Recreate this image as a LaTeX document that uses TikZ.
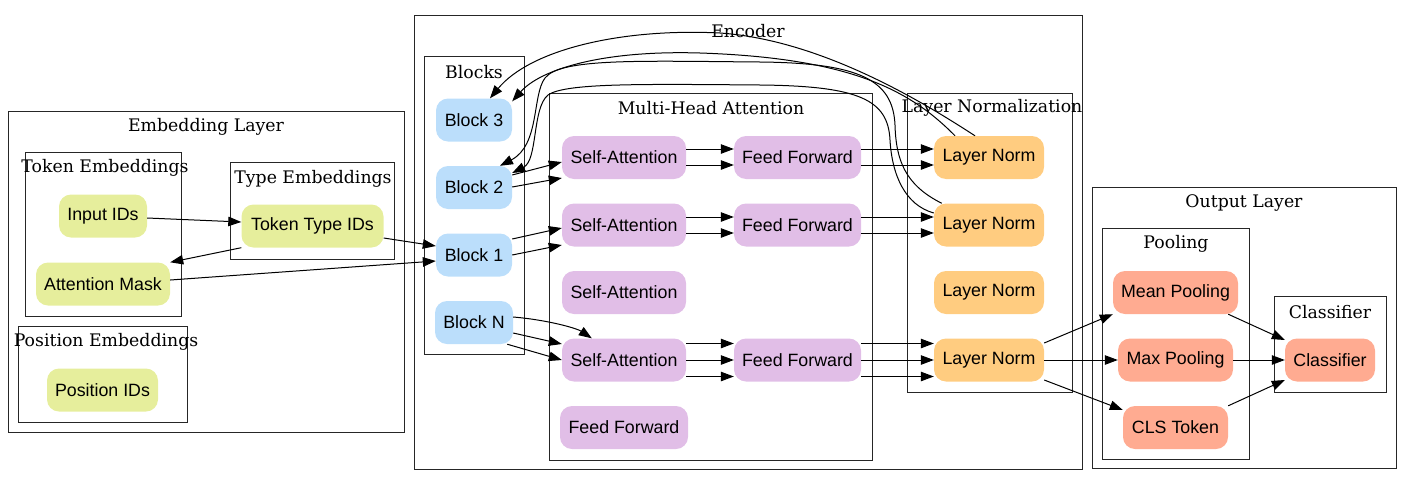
\documentclass[tikz,border=0pt]{standalone}
\usepackage{fontspec}
\setmainfont{DejaVu Serif}
\newfontfamily\nodefont{Liberation Sans}
\usetikzlibrary{arrows.meta}
\definecolor{cemb}{HTML}{E6EE9C}
\definecolor{cblk}{HTML}{BBDEFB}
\definecolor{catt}{HTML}{E1BEE7}
\definecolor{cln}{HTML}{FFCC80}
\definecolor{cout}{HTML}{FFAB91}
\begin{document}
\begin{tikzpicture}[x=1pt,y=-1pt,
  box/.style={rounded corners=12pt, minimum height=43pt, inner sep=0pt,
    font=\nodefont\fontsize{17.8}{20}\selectfont, text=black},
  emb/.style={box, fill=cemb},
  blk/.style={box, fill=cblk},
  att/.style={box, fill=catt},
  lnn/.style={box, fill=cln},
  outn/.style={box, fill=cout},
  cluster/.style={draw=black!85, line width=1pt},
  ctitle/.style={font=\fontsize{17.3}{20}\selectfont, inner sep=0pt},
  edge/.style={-{Triangle[length=13pt,width=9.5pt]}, line width=1pt},
  back/.style={line width=1pt, -{Triangle[length=13pt,width=9.5pt]}},
]
\useasboundingbox (0,0) rectangle (1411,485);

% clusters
\draw[cluster] (8,111) rectangle (404,432);
\node[ctitle] (tEmb) at (206,127) {Embedding Layer};
\draw[cluster] (25,152) rectangle (181,316);
\node[ctitle] (tTok) at (105,168) {Token Embeddings};
\draw[cluster] (230,162) rectangle (394,259);
\node[ctitle] (tType) at (313,179) {Type Embeddings};
\draw[cluster] (18,326) rectangle (187,422);
\node[ctitle] (tPos) at (106,342) {Position Embeddings};

\draw[cluster] (414,15) rectangle (1082,469);
\node[ctitle] (tEnc) at (748,31) {Encoder};
\draw[cluster] (424,56) rectangle (524,354);
\node[ctitle] (tBlk) at (474,72) {Blocks};
\draw[cluster] (549,93) rectangle (872,460);
\node[ctitle] (tMha) at (711,108) {Multi-Head Attention};
\draw[cluster] (907,93) rectangle (1072,392);
\node[ctitle] (tLn) at (992,108) {Layer Normalization};

\draw[cluster] (1092,187) rectangle (1396,468);
\node[ctitle] (tOut) at (1244,203) {Output Layer};
\draw[cluster] (1102,228) rectangle (1249,459);
\node[ctitle] (tPool) at (1176,244) {Pooling};
\draw[cluster] (1274,296) rectangle (1386,392);
\node[ctitle] (tClf) at (1330,312) {Classifier};

% nodes
\node[emb, minimum width=88pt] (in) at (103,216) {Input IDs};
\node[emb, minimum width=134pt] (am) at (103,284) {Attention Mask};
\node[emb, minimum width=142pt] (tt) at (312.5,226) {Token Type IDs};
\node[emb, minimum width=111pt] (pos) at (102.5,390) {Position IDs};

\node[blk, minimum width=76pt] (b3) at (474,120) {Block 3};
\node[blk, minimum width=76pt] (b2) at (474,187.5) {Block 2};
\node[blk, minimum width=76pt] (b1) at (474,255) {Block 1};
\node[blk, minimum width=78pt] (bn) at (474,322.5) {Block N};

\node[att, minimum width=124pt] (sa1) at (624,157.5) {Self-Attention};
\node[att, minimum width=127pt] (ff1) at (797.5,157.5) {Feed Forward};
\node[att, minimum width=124pt] (sa2) at (624,225) {Self-Attention};
\node[att, minimum width=127pt] (ff2) at (797.5,225) {Feed Forward};
\node[att, minimum width=124pt] (sa3) at (624,292.5) {Self-Attention};
\node[att, minimum width=124pt] (sa4) at (624,360) {Self-Attention};
\node[att, minimum width=127pt] (ff4) at (797.5,360) {Feed Forward};
\node[att, minimum width=128pt] (ff5) at (624,427.5) {Feed Forward};

\node[lnn, minimum width=110pt] (ln1) at (989,157.5) {Layer Norm};
\node[lnn, minimum width=110pt] (ln2) at (989,225) {Layer Norm};
\node[lnn, minimum width=110pt] (ln3) at (989,292.5) {Layer Norm};
\node[lnn, minimum width=110pt] (ln4) at (989,360) {Layer Norm};

\node[outn, minimum width=125pt] (mp) at (1175.5,292.5) {Mean Pooling};
\node[outn, minimum width=115pt] (xp) at (1175.5,360) {Max Pooling};
\node[outn, minimum width=105pt] (cls) at (1175.5,427.5) {CLS Token};
\node[outn, minimum width=90pt] (clf) at (1330,360) {Classifier};

% embedding edges
\draw[edge] ([yshift=-2pt]in.east) -- ([yshift=4pt]tt.west);
\draw[edge] (tt.south west) -- (am.north east);
\draw[edge] ([yshift=-12pt]tt.east) -- ([yshift=9pt]b1.west);
\draw[edge] ([yshift=4pt]am.east) -- ([yshift=-6pt]b1.west);

% blocks to attention
\draw[edge] ([yshift=16pt]b1.east) -- ([yshift=-3pt]sa2.west);
\draw[edge] (b1.east) -- ([yshift=-20pt]sa2.west);
\draw[edge] ([yshift=12.5pt]b2.east) -- ([yshift=-4.5pt]sa1.west);
\draw[edge] ([yshift=0.5pt]b2.east) -- ([yshift=-20.5pt]sa1.west);
\draw[edge] ([yshift=5.5pt]bn.east) .. controls +(35,3) and +(-15,-10) .. ([xshift=30pt]sa4.north west);
\draw[edge] ([yshift=-10.5pt]bn.east) -- ([yshift=16pt]sa4.west);
\draw[edge] ([xshift=-6pt]bn.south east) -- (sa4.west);

% attention to feed forward
\draw[edge] ([yshift=8.5pt]sa1.east) -- ([yshift=8.5pt]ff1.west);
\draw[edge] ([yshift=-7.5pt]sa1.east) -- ([yshift=-7.5pt]ff1.west);
\draw[edge] ([yshift=8pt]sa2.east) -- ([yshift=8pt]ff2.west);
\draw[edge] ([yshift=-8pt]sa2.east) -- ([yshift=-8pt]ff2.west);
\draw[edge] ([yshift=16.5pt]sa4.east) -- ([yshift=16.5pt]ff4.west);
\draw[edge] (sa4.east) -- (ff4.west);
\draw[edge] ([yshift=-16.5pt]sa4.east) -- ([yshift=-16.5pt]ff4.west);

% feed forward to layer norm
\draw[edge] ([yshift=8.5pt]ff1.east) -- ([yshift=8.5pt]ln1.west);
\draw[edge] ([yshift=-7.5pt]ff1.east) -- ([yshift=-7.5pt]ln1.west);
\draw[edge] ([yshift=8pt]ff2.east) -- ([yshift=8pt]ln2.west);
\draw[edge] ([yshift=-8pt]ff2.east) -- ([yshift=-8pt]ln2.west);
\draw[edge] ([yshift=16.5pt]ff4.east) -- ([yshift=16.5pt]ln4.west);
\draw[edge] (ff4.east) -- (ln4.west);
\draw[edge] ([yshift=-16.5pt]ff4.east) -- ([yshift=-16.5pt]ln4.west);

% layer norm back to blocks
\draw[back] ([xshift=-14pt]ln1.north) .. controls (920,100) and (820,40) .. (720,33)
  .. controls (620,28) and (530,50) .. ([xshift=16pt]b3.north);
\draw[back] ([xshift=-34pt]ln1.north) .. controls (910,90) and (850,58) .. (700,53)
  .. controls (600,50) and (540,70) .. ([yshift=-3pt]b3.north east);
\draw[back] ([xshift=8pt]ln2.north west) .. controls (905,185) and (896,160) .. (895,125)
  .. controls (893,80) and (860,63) .. (760,62)
  .. controls (640,61) and (560,58) .. (545,78)
  .. controls (532,95) and (540,145) .. ([xshift=26pt]b2.north);
\draw[back] ([yshift=12pt]ln2.west) .. controls (905,205) and (892,175) .. (890,140)
  .. controls (888,100) and (860,86) .. (760,85)
  .. controls (640,84) and (565,83) .. (548,95)
  .. controls (532,108) and (538,160) .. ([yshift=14.5pt]b2.east);

% output layer
\draw[edge] ([yshift=17pt]ln4.east) -- (mp.south west);
\draw[edge] (ln4.east) -- (xp.west);
\draw[edge] ([yshift=-20pt]ln4.east) -- ([yshift=17.5pt]cls.west);
\draw[edge] ([xshift=-10pt]mp.south east) -- ([yshift=20pt]clf.west);
\draw[edge] (xp.east) -- (clf.west);
\draw[edge] (cls.north east) -- ([yshift=-20pt]clf.west);
\end{tikzpicture}
\end{document}
